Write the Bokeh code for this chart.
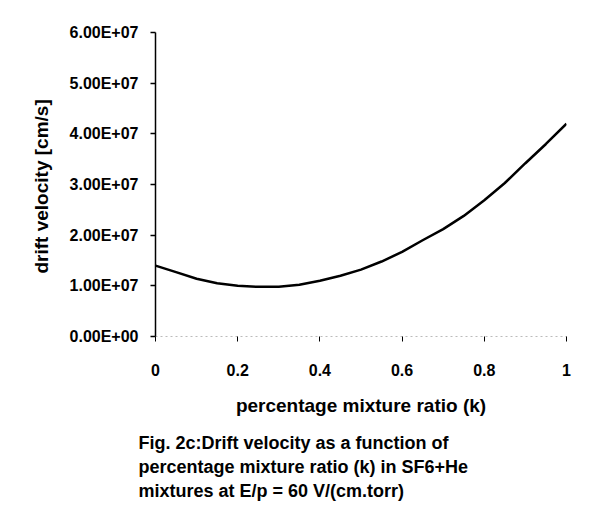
from bokeh.plotting import figure
from bokeh.models import Range1d, FixedTicker, Title
from bokeh.embed import file_html
from bokeh.resources import INLINE

# data
k_values = [0.0, 0.05, 0.1, 0.15, 0.2, 0.25, 0.3, 0.35, 0.4, 0.45, 0.5,
            0.55, 0.6, 0.65, 0.7, 0.75, 0.8, 0.85, 0.9, 0.95, 1.0]
drift_velocity = [1.40e7, 1.27e7, 1.14e7, 1.05e7, 1.00e7, 0.98e7, 0.98e7, 1.02e7, 1.10e7, 1.20e7, 1.32e7,
                  1.48e7, 1.67e7, 1.90e7, 2.12e7, 2.38e7, 2.69e7, 3.03e7, 3.42e7, 3.80e7, 4.20e7]

x_ticks = [0, 0.2, 0.4, 0.6, 0.8, 1]
x_tick_labels = ["0", "0.2", "0.4", "0.6", "0.8", "1"]
y_ticks = [0, 10000000, 20000000, 30000000, 40000000, 50000000, 60000000]
y_tick_labels = ["0.00E+00", "1.00E+07", "2.00E+07", "3.00E+07", "4.00E+07", "5.00E+07", "6.00E+07"]

x_title = "percentage mixture ratio (k)"
y_title = "drift velocity [cm/s]"
caption_lines = [
    "Fig. 2c:Drift velocity as a function of",
    "percentage mixture ratio (k) in SF6+He",
    "mixtures at E/p = 60 V/(cm.torr)",
]

FONT = "Liberation Sans"

p = figure(width=596, height=529, output_backend="svg", toolbar_location=None,
           x_range=Range1d(0, 1), y_range=Range1d(0, 6e7),
           min_border_left=155, min_border_right=30, min_border_top=32, min_border_bottom=193)
p.outline_line_color = None
p.grid.visible = False
p.background_fill_color = "white"
p.border_fill_color = "white"

p.line(k_values, drift_velocity, line_color="black", line_width=2.5)

# x axis
xa = p.xaxis[0]
xa.ticker = FixedTicker(ticks=x_ticks)
xa.major_label_overrides = {t: l for t, l in zip(x_ticks, x_tick_labels)}
xa.axis_line_color = "#bbbbbb"
xa.axis_line_dash = "2 3"
xa.major_tick_line_color = "black"
xa.major_tick_in = 0
xa.major_tick_out = 5
xa.minor_tick_line_color = None
xa.major_label_standoff = 22
xa.major_label_text_font = FONT
xa.major_label_text_font_style = "bold"
xa.major_label_text_font_size = "16px"
xa.major_label_text_color = "black"
xa.axis_label = x_title
xa.axis_label_standoff = 16
xa.axis_label_text_font = FONT
xa.axis_label_text_font_style = "bold"
xa.axis_label_text_font_size = "19px"
xa.axis_label_text_color = "black"

# y axis
ya = p.yaxis[0]
ya.ticker = FixedTicker(ticks=y_ticks)
ya.major_label_overrides = {t: l for t, l in zip(y_ticks, y_tick_labels)}
ya.axis_line_color = "black"
ya.axis_line_width = 1.5
ya.major_tick_line_color = "black"
ya.major_tick_line_width = 1.5
ya.major_tick_in = 0
ya.major_tick_out = 5
ya.minor_tick_line_color = None
ya.major_label_standoff = 12
ya.major_label_text_font = FONT
ya.major_label_text_font_style = "bold"
ya.major_label_text_font_size = "16px"
ya.major_label_text_color = "black"

# y title as a left-side title so it can be shifted
p.add_layout(Title(text=y_title, align="left", offset=63, standoff=30,
                   text_font=FONT, text_font_style="bold", text_font_size="19px",
                   text_color="black"), "left")

# spacer between axis title and caption
p.add_layout(Title(text=" ", standoff=0, text_font=FONT, text_font_size="8px"), "below")

# caption below
for line in caption_lines:
    p.add_layout(Title(text=line, align="left", offset=-17, standoff=2,
                       text_font=FONT, text_font_style="bold", text_font_size="18px",
                       text_color="black"), "below")

open("out.html", "w").write(file_html(p, INLINE))
